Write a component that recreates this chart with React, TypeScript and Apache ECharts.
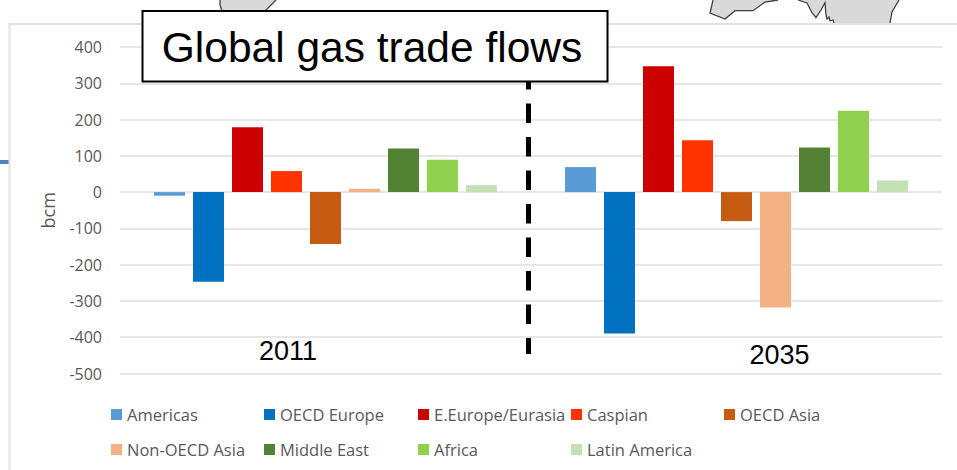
import React, { useEffect, useRef } from "react";
import * as echarts from "echarts";

const years = ["2011", "2035"];
const seriesNames = ["Americas", "OECD Europe", "E.Europe/Eurasia", "Caspian", "OECD Asia", "Non-OECD Asia", "Middle East", "Africa", "Latin America"];
const seriesColors = ["#5B9BD5", "#0070C0", "#CC0000", "#FF3300", "#C55A11", "#F4B183", "#548235", "#92D050", "#C5E0B4"];
const values2011 = [-10, -247, 179, 58, -143, 9, 120, 89, 19];
const values2035 = [69, -390, 347, 143, -80, -318, 123, 224, 32];
const yTicks = { min: -500, max: 400, interval: 100 };
const legendX = [111, 264, 418, 571, 724, 111, 264, 418, 571];
const legendY = [406, 406, 406, 406, 406, 441, 441, 441, 441];
const font = "'Open Sans', 'Noto Sans', sans-serif";

const mapStroke = { fill: "none", stroke: "#404040", lineWidth: 1.3 };
const mapFill = { fill: "#D9D9D9" };

export default function App() {
  const ref = useRef<HTMLDivElement>(null);
  useEffect(() => {
    document.body.style.margin = "0";
    const chart = echarts.init(ref.current!, undefined, { renderer: "svg" });
    const leftMapL = [[220, 0], [220, 5], [222, 11]];
    const leftMapR = [[265, 11], [276, 0]];
    const rightMapA = [[713, 0], [710, 13], [725, 19], [735, 10.7], [753, 10.7], [765, 2], [778, 0]];
    const rightMapB = [[798, 0], [807, 3], [812, 12.7], [816, 17.7], [821, 10], [825, 2.7], [826, 15], [827, 19], [829, 17], [830, 21], [833, 20], [834, 23]];
    const rightMapC = [[890, 23], [892, 12], [899, 0]];
    const option: any = {
      animation: false,
      backgroundColor: "#fff",
      grid: { left: 120, right: 15, top: 47, bottom: 96.5, containLabel: false },
      xAxis: {
        type: "category", data: years,
        axisLabel: { show: false }, axisTick: { show: false },
        axisLine: { show: false }, splitLine: { show: false },
      },
      yAxis: {
        type: "value", ...yTicks,
        name: "bcm", nameLocation: "middle", nameGap: 63,
        nameTextStyle: { color: "#595959", fontFamily: font, fontSize: 18 },
        axisLabel: { color: "#595959", fontFamily: font, fontSize: 16, margin: 18 },
        axisLine: { show: false }, axisTick: { show: false },
        splitLine: { lineStyle: { color: "#DEDEDE", width: 1.5 } },
      },
      legend: seriesNames.map((n, i) => ({
        data: [n], left: legendX[i], top: legendY[i], itemWidth: 11, itemHeight: 11, itemGap: 0,
        icon: "rect", padding: 0,
        textStyle: { color: "#595959", fontFamily: font, fontSize: 16.5, padding: [0, 0, 0, 0] },
      })),
      series: seriesNames.map((n, i) => ({
        name: n, type: "bar", barWidth: 31, barGap: "25.8%",
        itemStyle: { color: seriesColors[i] },
        data: [values2011[i], values2035[i]],
      })),
      graphic: [
        { type: "polygon", silent: true, z: 1, shape: { points: [...leftMapL, ...leftMapR] }, style: mapFill },
        { type: "polyline", silent: true, z: 1, shape: { points: leftMapL }, style: mapStroke },
        { type: "polyline", silent: true, z: 1, shape: { points: leftMapR }, style: mapStroke },
        { type: "polygon", silent: true, z: 1, shape: { points: rightMapA }, style: mapFill },
        { type: "polygon", silent: true, z: 1, shape: { points: [...rightMapB, ...rightMapC] }, style: mapFill },
        { type: "polyline", silent: true, z: 1, shape: { points: rightMapA }, style: mapStroke },
        { type: "polyline", silent: true, z: 1, shape: { points: rightMapB }, style: mapStroke },
        { type: "polyline", silent: true, z: 1, shape: { points: rightMapC }, style: mapStroke },
        { type: "polyline", silent: true, z: 2, shape: { points: [[9.5, 470], [9.5, 24], [957, 24]] }, style: { stroke: "#E2E2E2", lineWidth: 2, fill: "none" } },
        { type: "rect", silent: true, shape: { x: 0, y: 160, width: 9, height: 4 }, style: { fill: "#4F81BD" } },
        { type: "line", silent: true, z: 40, shape: { x1: 528.5, y1: 70, x2: 528.5, y2: 354 }, style: { stroke: "#000", lineWidth: 5, lineDash: [19.5, 14] } },
        { type: "rect", silent: true, z: 50, shape: { x: 142.5, y: 11, width: 465, height: 70.5 }, style: { fill: "#fff", stroke: "#000", lineWidth: 2 } },
        { type: "text", silent: true, z: 51, x: 372, y: 47, style: { text: "Global gas trade flows", font: "42.5px 'Liberation Sans', Arial, sans-serif", fill: "#000", textAlign: "center", textVerticalAlign: "middle" } },
        { type: "text", silent: true, z: 51, x: 288, y: 351, style: { text: "2011", font: "27px 'Liberation Sans', Arial, sans-serif", fill: "#000", textAlign: "center", textVerticalAlign: "middle" } },
        { type: "text", silent: true, z: 51, x: 779.5, y: 355, style: { text: "2035", font: "27px 'Liberation Sans', Arial, sans-serif", fill: "#000", textAlign: "center", textVerticalAlign: "middle" } },
      ],
    };
    chart.setOption(option);
    return () => chart.dispose();
  }, []);
  return <div ref={ref} style={{ width: 957, height: 470 }} />;
}
